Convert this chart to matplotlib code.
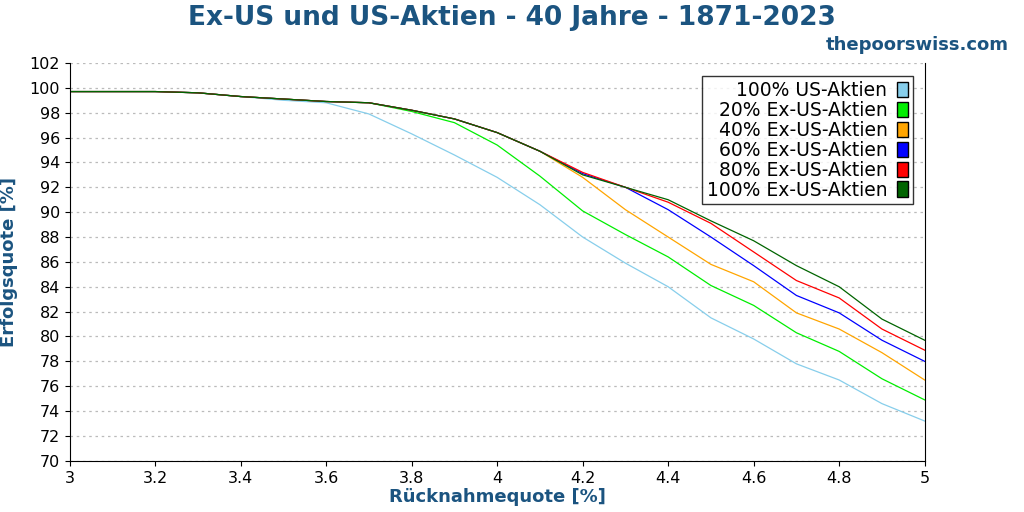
import numpy as np
import matplotlib.pyplot as plt
from matplotlib.patches import Patch

rates = np.round(np.arange(3.0, 5.01, 0.1), 1)

common = [99.7, 99.7, 99.7, 99.6, 99.3, 99.1, 98.9, 98.8, 98.2, 97.5, 96.4, 94.9]

us100 = [99.7, 99.7, 99.7, 99.6, 99.3, 99.0, 98.8, 97.9, 96.3, 94.6, 92.8,
         90.6, 88.0, 85.9, 84.0, 81.5, 79.8, 77.8, 76.5, 74.6, 73.2]
ex20 = common[:8] + [98.1, 97.2, 95.4, 92.9, 90.1, 88.2, 86.4, 84.1, 82.5, 80.3, 78.8, 76.6, 74.9]
ex40 = common + [92.8, 90.2, 88.0, 85.8, 84.4, 81.9, 80.6, 78.7, 76.5]
ex60 = common + [93.1, 92.0, 90.2, 88.0, 85.7, 83.3, 81.9, 79.7, 78.0]
ex80 = common + [93.2, 92.0, 90.8, 89.1, 86.8, 84.5, 83.1, 80.6, 78.9]
ex100 = common + [93.0, 92.0, 91.0, 89.3, 87.7, 85.7, 84.0, 81.4, 79.7]

labels = ["100% US-Aktien", "20% Ex-US-Aktien", "40% Ex-US-Aktien",
          "60% Ex-US-Aktien", "80% Ex-US-Aktien", "100% Ex-US-Aktien"]
colors = ["skyblue", "#00ee00", "orange", "blue", "red", "darkgreen"]
series = [us100, ex20, ex40, ex60, ex80, ex100]

fig = plt.figure(figsize=(10.24, 5.12), dpi=100)
ax = fig.add_axes([0.068, 0.1, 0.835, 0.777])
for s, c in zip(series, colors):
    ax.plot(rates, s, color=c, linewidth=0.9)

ax.set_xlim(3, 5)
ax.set_ylim(70, 102)
ax.set_xticks(np.arange(3, 5.01, 0.2))
ax.set_xticklabels(["3", "3.2", "3.4", "3.6", "3.8", "4", "4.2", "4.4", "4.6", "4.8", "5"])
ax.set_yticks(np.arange(70, 103, 2))
ax.yaxis.grid(True, linestyle=(0, (2, 3)), color="#bbbbbb", linewidth=0.9)
ax.tick_params(labelsize=11.5)
ax.spines["top"].set_visible(False)

navy = "#1b5480"
ax.set_xlabel("Rücknahmequote [%]", fontsize=13, fontweight="bold", color=navy, labelpad=2)
ax.set_ylabel("Erfolgsquote [%]", fontsize=13, fontweight="bold", color=navy, labelpad=8)
fig.text(0.5, 0.965, "Ex-US und US-Aktien - 40 Jahre - 1871-2023", ha="center", va="center",
         fontsize=19, fontweight="bold", color=navy)
fig.text(0.985, 0.913, "thepoorswiss.com", ha="right", va="center",
         fontsize=13, fontweight="bold", color=navy)

handles = [Patch(facecolor=c, edgecolor="black") for c in colors]
leg = ax.legend(handles, labels, loc="upper right", fontsize=13.5, markerfirst=False,
                fancybox=False, edgecolor="black", handlelength=0.6, handleheight=0.9,
                borderpad=0.25, labelspacing=0.05, handletextpad=0.5,
                bbox_to_anchor=(0.997, 0.99))
leg.get_frame().set_linewidth(1.0)
for t in leg.get_texts():
    t.set_ha("right")

fig.savefig("out.png")
